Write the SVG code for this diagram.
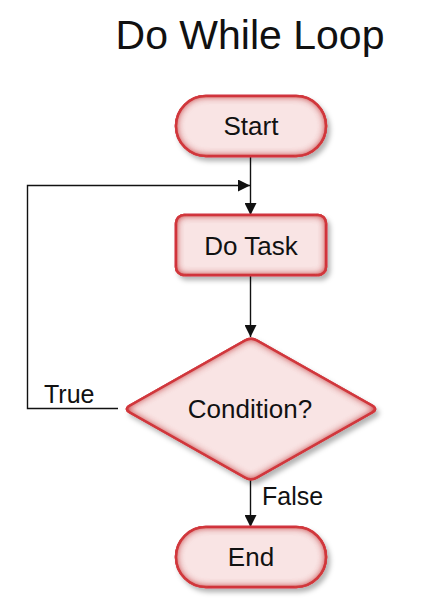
<svg xmlns="http://www.w3.org/2000/svg" width="436" height="598" viewBox="0 0 436 598">
<style>
.node{fill:#f9e4e4;stroke:#cc3a3e;stroke-width:2.5;filter:url(#glow)}
.lbl{font-family:"Liberation Sans",Arial,sans-serif;font-size:26px;fill:#111;text-anchor:middle}
.edge{fill:none;stroke:#111;stroke-width:1.4}
.elbl{font-family:"Liberation Sans",Arial,sans-serif;font-size:25px;fill:#111}
</style>
<defs>
<marker id="arr" viewBox="0 0 12 12" refX="12" refY="6" markerWidth="12" markerHeight="12" markerUnits="userSpaceOnUse" orient="auto">
<path d="M0,0 L12,6 L0,12 Z" fill="#111"/>
</marker>
<filter id="glow" x="-10%" y="-15%" width="125%" height="140%">
<feGaussianBlur in="SourceAlpha" stdDeviation="2.5" result="sb"/>
<feOffset in="sb" dx="3" dy="4" result="so"/>
<feFlood flood-color="#000" flood-opacity="0.3"/>
<feComposite in2="so" operator="in" result="shadow"/>
<feFlood flood-color="#d2383c" result="red"/>
<feComposite in="red" in2="SourceAlpha" operator="out" result="outside"/>
<feGaussianBlur in="outside" stdDeviation="4" result="ob"/>
<feComposite in="ob" in2="SourceAlpha" operator="in" result="inner"/>
<feMerge>
<feMergeNode in="shadow"/>
<feMergeNode in="SourceGraphic"/>
<feMergeNode in="inner"/>
<feMergeNode in="inner"/>
<feMergeNode in="inner"/>
</feMerge>
</filter>
</defs>
<text x="250" y="49" font-family="'Liberation Sans',Arial,sans-serif" font-size="41" fill="#111" text-anchor="middle">Do While Loop</text>
<g id="connectors">
<path class="edge" d="M250.5,157 V215" marker-end="url(#arr)"/>
<path class="edge" d="M118,408.5 H27.5 V185.5 H250" marker-end="url(#arr)"/>
<path class="edge" d="M250.5,275 V337" marker-end="url(#arr)"/>
<path class="edge" d="M250.5,480 V527" marker-end="url(#arr)"/>
<text class="elbl" x="44" y="403">True</text>
<text class="elbl" x="262" y="505">False</text>
</g>
<g id="start">
<rect class="node" x="176" y="96" width="150" height="60" rx="30"/>
<text class="lbl" x="251" y="135">Start</text>
</g>
<g id="dotask">
<rect class="node" x="176" y="215" width="150" height="60" rx="8"/>
<text class="lbl" x="251" y="255">Do Task</text>
</g>
<g id="condition">
<path class="node" d="M245,340.5 Q251,337 257,340.5 L372,405.5 Q378,409 372,412.5 L257,477.5 Q251,481 245,477.5 L130,412.5 Q124,409 130,405.5 Z"/>
<text class="lbl" x="250" y="418">Condition?</text>
</g>
<g id="end">
<rect class="node" x="176" y="527" width="150" height="60" rx="30"/>
<text class="lbl" x="251" y="566">End</text>
</g>
</svg>
